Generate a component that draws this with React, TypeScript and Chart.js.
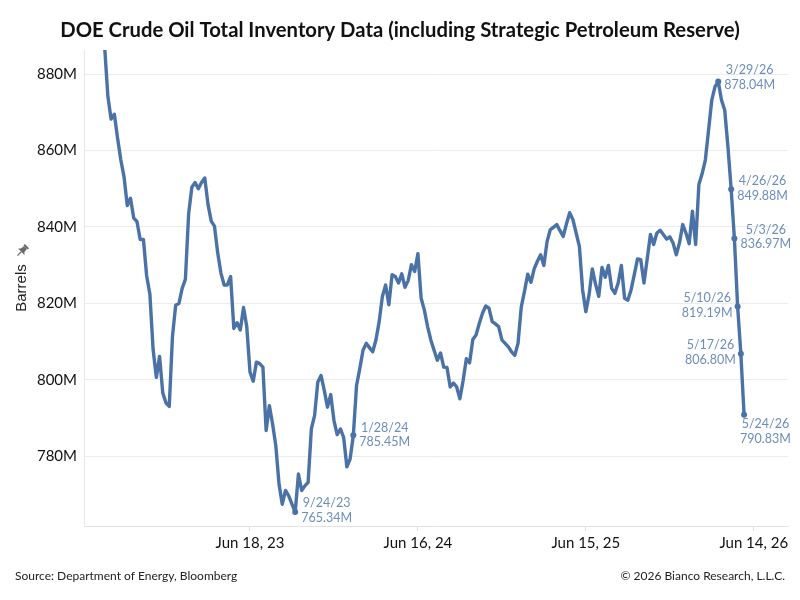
import React, { useEffect, useRef } from 'react';
import { Chart, registerables } from 'chart.js';

Chart.register(...registerables);

// Weekly total crude inventory (incl. SPR), millions of barrels.
// Week index is counted relative to the week of Jun 18, 2023 (= 0).
const FIRST_WEEK = -45;
const inventory = [
  887.0, 874.1, 868.2, 869.5, 863.2, 857.5, 853.1, 845.6, 847.5, 842.3,
  841.4, 836.7, 836.7, 827.2, 822.4, 807.9, 800.6, 806.1, 796.5, 793.9,
  793.0, 811.4, 819.5, 820.0, 823.9, 826.3, 843.4, 850.4, 851.6, 850.0,
  851.6, 852.8, 845.9, 841.5, 840.2, 833.2, 827.9, 824.8, 824.8, 827.0,
  813.4, 814.9, 813.0, 818.9, 813.9,
  802.0, 799.6, 804.6, 804.2, 803.3, 786.7, 793.2, 788.4, 782.7, 772.6,
  767.4, 771.0, 769.6, 767.4, 765.34, 775.3, 771.0, 772.2, 773.1, 787.1,
  790.6, 799.4, 801.1, 797.2, 792.8, 796.1, 789.3, 785.6, 787.1, 784.9,
  777.2, 779.2, 785.45, 798.5, 802.9, 807.7, 809.5, 808.4, 807.3, 810.4,
  815.2, 821.8, 824.8, 819.6, 827.5, 827.0, 825.3, 827.7, 824.2, 826.0,
  830.1, 828.3, 833.0, 821.3, 818.2, 813.9, 810.4, 807.7, 805.1, 807.0,
  803.3, 803.2, 798.1, 799.1, 798.1, 795.0, 799.8, 805.5, 804.4, 810.5,
  811.7, 814.7, 817.4, 819.3, 818.7, 815.2, 814.6, 813.9, 810.4, 809.5,
  808.6, 807.3, 806.4, 809.5, 819.0, 823.1, 827.6, 825.5, 829.0, 831.0,
  832.7, 829.9, 836.2, 839.3, 839.9, 840.6, 839.0, 837.5, 840.8, 843.7,
  841.9, 838.4, 834.9, 823.5, 817.8, 822.2, 829.0, 825.0, 821.8, 829.4,
  826.8, 829.9, 823.9, 822.6, 825.3, 829.9, 821.3, 820.8, 823.5, 827.5,
  831.6, 831.4, 825.3, 831.6, 838.0, 835.4, 838.4, 839.1, 838.0, 836.8,
  837.4, 835.8, 832.7, 835.8, 840.6, 838.4, 835.6, 844.1, 835.4, 851.1,
  853.9, 857.5, 865.3, 873.2, 876.7, 878.04, 873.2, 870.6, 861.0, 849.88,
  836.97, 819.19, 806.80, 790.83,
];

const tickWeeks = [0, 52, 104, 156];
const tickLabels = ['Jun 18, 23', 'Jun 16, 24', 'Jun 15, 25', 'Jun 14, 26'];
const yTicks = [780, 800, 820, 840, 860, 880];

const annotWeeks = [14, 32, 145, 149, 150, 151, 152, 153];
const annotDates = ['9/24/23', '1/28/24', '3/29/26', '4/26/26', '5/3/26', '5/10/26', '5/17/26', '5/24/26'];

const TITLE = 'DOE Crude Oil Total Inventory Data (including Strategic Petroleum Reserve)';
const Y_TITLE = 'Barrels';
const SOURCE = 'Source: Department of Energy, Bloomberg';
const COPYRIGHT = '\u00A9 2026 Bianco Research, L.L.C.';

// label placement (style only)
const LABEL_STYLE = [
  { side: 'right', dy1: -9, dy2: 6 },
  { side: 'right', dy1: -7, dy2: 7 },
  { side: 'right', dy1: -12, dy2: 3 },
  { side: 'right', dy1: -8, dy2: 7 },
  { side: 'right', dy1: -8, dy2: 6 },
  { side: 'left', dy1: -8, dy2: 7 },
  { side: 'left', dy1: -9, dy2: 6 },
  { side: 'below', dy1: 9, dy2: 24 },
];

const LINE_COLOR = '#4a72a6';
const LABEL_COLOR = '#6d8dbd';

const decorPlugin = {
  id: 'decor',
  afterDraw(chart: any) {
    const ctx = chart.ctx;
    ctx.save();
    // title
    ctx.fillStyle = '#111';
    ctx.font = 'bold 20.25px Lato';
    ctx.textAlign = 'center';
    ctx.textBaseline = 'middle';
    ctx.fillText(TITLE, 400, 30);
    // footer
    ctx.font = '12px Lato';
    ctx.fillStyle = '#222';
    ctx.textAlign = 'left';
    ctx.fillText(SOURCE, 15, 576);
    ctx.textAlign = 'right';
    ctx.fillText(COPYRIGHT, 785, 576);
    // y title
    ctx.save();
    ctx.translate(22, 288);
    ctx.rotate(-Math.PI / 2);
    ctx.font = '15px "Liberation Sans"';
    ctx.fillStyle = '#222';
    ctx.textAlign = 'center';
    ctx.fillText(Y_TITLE, 0, 0);
    ctx.restore();
    // pin icon
    ctx.save();
    ctx.translate(22, 251);
    ctx.rotate(Math.PI / 4);
    ctx.fillStyle = '#6a6a6a';
    ctx.strokeStyle = '#6a6a6a';
    ctx.fillRect(-3, -7, 6, 2);
    ctx.beginPath();
    ctx.moveTo(-2, -5);
    ctx.lineTo(2, -5);
    ctx.lineTo(2.5, -1);
    ctx.lineTo(4.5, 1);
    ctx.lineTo(-4.5, 1);
    ctx.lineTo(-2.5, -1);
    ctx.closePath();
    ctx.fill();
    ctx.lineWidth = 1.2;
    ctx.beginPath();
    ctx.moveTo(0, 1);
    ctx.lineTo(0, 6.5);
    ctx.stroke();
    ctx.restore();
    ctx.restore();
  },
  afterDatasetsDraw(chart: any) {
    const ctx = chart.ctx;
    const meta = chart.getDatasetMeta(0);
    ctx.save();
    ctx.font = '12.5px Lato';
    ctx.fillStyle = LABEL_COLOR;
    ctx.textAlign = 'center';
    ctx.textBaseline = 'middle';
    annotWeeks.forEach((wk, i) => {
      const idx = wk - FIRST_WEEK;
      const el = meta.data[idx];
      if (!el) return;
      const l1 = annotDates[i];
      const l2 = inventory[idx].toFixed(2) + 'M';
      const w = Math.max(ctx.measureText(l1).width, ctx.measureText(l2).width);
      const st = LABEL_STYLE[i];
      let cx = el.x;
      if (st.side === 'right') cx = el.x + 6 + w / 2;
      else if (st.side === 'left') cx = el.x - 5 - w / 2;
      else cx = el.x - 4 + w / 2;
      ctx.fillText(l1, cx, el.y + st.dy1);
      ctx.fillText(l2, cx, el.y + st.dy2);
    });
    ctx.restore();
  },
};

export default function App() {
  const ref = useRef<HTMLCanvasElement | null>(null);
  useEffect(() => {
    if (!ref.current) return;
    const points = inventory.map((v, i) => ({ x: FIRST_WEEK + i, y: v }));
    const annotIdx = annotWeeks.map((w) => w - FIRST_WEEK);
    const chart = new Chart(ref.current, {
      type: 'line',
      data: {
        datasets: [
          {
            data: points,
            borderColor: LINE_COLOR,
            backgroundColor: LINE_COLOR,
            borderWidth: 3.4,
            tension: 0,
            borderJoinStyle: 'round',
            pointRadius: (c: any) => (annotIdx.includes(c.dataIndex) ? 3 : 0),
            pointHoverRadius: 0,
            pointBorderWidth: 0,
          },
        ],
      },
      options: {
        animation: false,
        responsive: false,
        events: [],
        layout: { padding: { left: 0, right: 12, top: 50, bottom: 44 } },
        plugins: { legend: { display: false }, tooltip: { enabled: false }, title: { display: false } },
        scales: {
          x: {
            type: 'linear',
            min: -51.4,
            max: 166.6,
            afterBuildTicks: (s: any) => {
              s.ticks = tickWeeks.map((v) => ({ value: v }));
            },
            afterFit: (s: any) => {
              s.height = 30;
              s.paddingLeft = 0;
              s.paddingRight = 0;
            },
            ticks: {
              autoSkip: false,
              maxRotation: 0,
              padding: 3,
              color: '#111',
              font: { family: 'Lato', size: 15 },
              callback: (v: any) => tickLabels[tickWeeks.indexOf(v)] ?? '',
            },
            grid: { drawOnChartArea: false, drawTicks: true, tickLength: 5, color: '#dddddd' },
            border: { color: '#e3e3e3', width: 1 },
          },
          y: {
            min: 761.7,
            max: 886.3,
            afterBuildTicks: (s: any) => {
              s.ticks = yTicks.map((v) => ({ value: v }));
            },
            afterFit: (s: any) => {
              s.width = 84;
              s.paddingTop = 0;
              s.paddingBottom = 0;
            },
            ticks: {
              padding: 7,
              color: '#111',
              font: { family: 'Lato', size: 15 },
              callback: (v: any) => v + 'M',
            },
            grid: { color: '#ececec', drawTicks: false },
            border: { color: '#e6e6e6', width: 1 },
          },
        },
      },
      plugins: [decorPlugin],
    } as any);
    return () => chart.destroy();
  }, []);
  return (
    <div style={{ position: 'absolute', left: 0, top: 0, width: 800, height: 600, background: '#fff' }}>
      <canvas ref={ref} width={800} height={600} style={{ width: 800, height: 600 }} />
    </div>
  );
}
